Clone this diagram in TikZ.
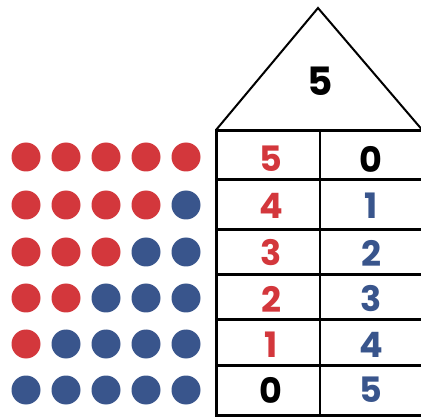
\documentclass[tikz,border=0pt]{standalone}
\usepackage{fontspec}
\setmainfont{Poppins}
\usetikzlibrary{positioning}

\definecolor{redDot}{RGB}{211,55,60}
\definecolor{blueDot}{RGB}{57,85,140}

\begin{document}
\begin{tikzpicture}[x=1pt, y=-1pt,
    dot/.style={circle, inner sep=0pt, minimum size=29pt},
    num/.style={font=\bfseries\fontsize{35}{35}\selectfont, inner sep=0pt},
    rule/.style={line width=3pt},
    thin/.style={line width=1.8pt}
]
\useasboundingbox (0,0) rectangle (421,417);
\clip (0,0) rectangle (421,417);

% roof
\draw[line width=2pt, line join=miter] (216,130) -- (318,8) -- (424,132);
\node[num, font=\bfseries\fontsize{39}{39}\selectfont] (total) at (320,81) {5};

% table frame
\draw[rule] (216,130) -- (216,416);
\foreach \y in {131,180,230,275,320,365,415}
  \draw[rule] (215,\y) -- (425,\y);
\draw[thin] (320,131) -- (320,415);

% dots and numbers
\foreach \r/\y in {5/157,4/205,3/252,2/298,1/344,0/390} {
  \foreach \c in {1,...,5} {
    \ifnum\c>\r
      \node[dot, fill=blueDot] (d\r\c) at ({26+40*(\c-1)},\y) {};
    \else
      \node[dot, fill=redDot] (d\r\c) at ({26+40*(\c-1)},\y) {};
    \fi
  }
}

\node[num, text=redDot]  (l5) at (271,159) {5};
\node[num]               (r5) at (371,159) {0};
\node[num, text=redDot]  (l4) at (271,206) {4};
\node[num, text=blueDot] (r4) at (371,206) {1};
\node[num, text=redDot]  (l3) at (271,253) {3};
\node[num, text=blueDot] (r3) at (371,253) {2};
\node[num, text=redDot]  (l2) at (271,299) {2};
\node[num, text=blueDot] (r2) at (371,299) {3};
\node[num, text=redDot]  (l1) at (271,345) {1};
\node[num, text=blueDot] (r1) at (371,345) {4};
\node[num]               (l0) at (271,390) {0};
\node[num, text=blueDot] (r0) at (371,390) {5};
\end{tikzpicture}
\end{document}
